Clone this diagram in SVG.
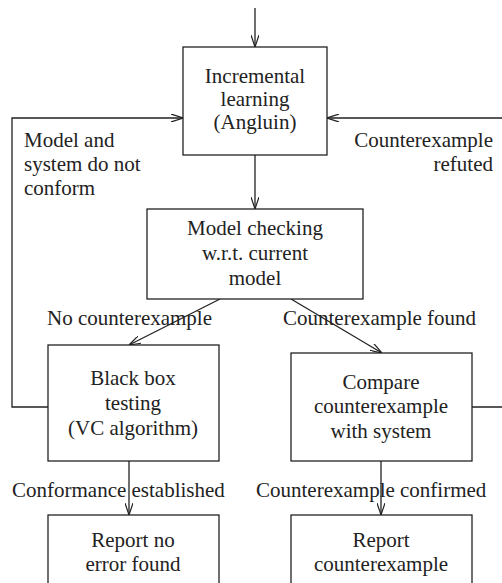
<svg xmlns="http://www.w3.org/2000/svg" width="502" height="583" viewBox="0 0 502 583">
<defs>
<style>
.box{fill:#fff;stroke:#222;stroke-width:1.3}
.t{font-family:"Liberation Serif","Times New Roman",serif;font-size:21px;fill:#222}
.m{text-anchor:middle}
.e{text-anchor:end}
.c{fill:none;stroke:#222;stroke-width:1.3}
</style>
<marker id="a" viewBox="0 0 12 8" refX="12" refY="4" markerWidth="12" markerHeight="8" markerUnits="userSpaceOnUse" orient="auto">
<polyline points="0,0 12,4 0,8" fill="none" stroke="#222" stroke-width="1.2"/>
</marker>
</defs>
<rect width="502" height="583" fill="#fff"/>
<g id="connectors">
<line class="c" x1="255" y1="8" x2="255" y2="47" marker-end="url(#a)"/>
<line class="c" x1="255" y1="155" x2="255" y2="209" marker-end="url(#a)"/>
<polyline class="c" points="48,407 12,407 12,118 183,118" marker-end="url(#a)"/>
<polyline class="c" points="472,407 510,407 510,118 327,118" marker-end="url(#a)"/>
<line class="c" x1="220" y1="299" x2="129" y2="345" marker-end="url(#a)"/>
<line class="c" x1="291" y1="299" x2="382" y2="353" marker-end="url(#a)"/>
<line class="c" x1="129" y1="461" x2="129" y2="515" marker-end="url(#a)"/>
<line class="c" x1="381" y1="461" x2="381" y2="515" marker-end="url(#a)"/>
<text class="t" x="24" y="147">Model and</text>
<text class="t" x="24" y="171">system do not</text>
<text class="t" x="24" y="195">conform</text>
<text class="t e" x="493" y="147">Counterexample</text>
<text class="t e" x="493" y="171">refuted</text>
<text class="t" x="47" y="325">No counterexample</text>
<text class="t" x="283" y="325">Counterexample found</text>
<text class="t" x="12" y="497">Conformance established</text>
<text class="t" x="256" y="497">Counterexample confirmed</text>
</g>
<g id="learn">
<rect class="box" x="183" y="47" width="144" height="108"/>
<text class="t m" x="255" y="83">Incremental</text>
<text class="t m" x="255" y="106">learning</text>
<text class="t m" x="255" y="129">(Angluin)</text>
</g>
<g id="mc">
<rect class="box" x="147" y="209" width="216" height="90"/>
<text class="t m" x="255" y="235">Model checking</text>
<text class="t m" x="255" y="260">w.r.t. current</text>
<text class="t m" x="255" y="285">model</text>
</g>
<g id="bbt">
<rect class="box" x="48" y="345" width="171" height="116"/>
<text class="t m" x="133" y="385">Black box</text>
<text class="t m" x="133" y="410">testing</text>
<text class="t m" x="133" y="435">(VC algorithm)</text>
</g>
<g id="cmp">
<rect class="box" x="291" y="353" width="181" height="108"/>
<text class="t m" x="381" y="389">Compare</text>
<text class="t m" x="381" y="413">counterexample</text>
<text class="t m" x="381" y="438">with system</text>
</g>
<g id="rne">
<rect class="box" x="48" y="515" width="171" height="80"/>
<text class="t m" x="133" y="547">Report no</text>
<text class="t m" x="133" y="571">error found</text>
</g>
<g id="rce">
<rect class="box" x="291" y="515" width="181" height="80"/>
<text class="t m" x="381" y="547">Report</text>
<text class="t m" x="381" y="571">counterexample</text>
</g>
</svg>
